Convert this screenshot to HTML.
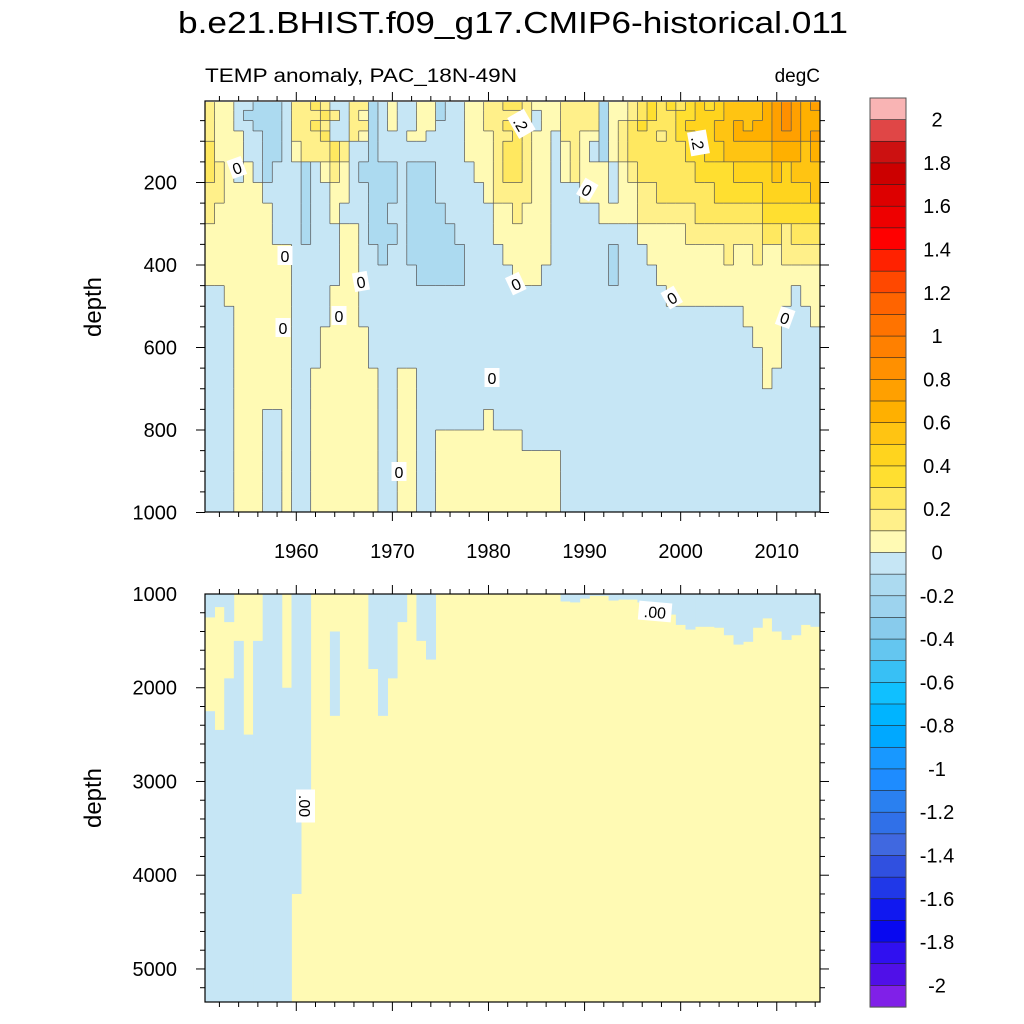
<!DOCTYPE html>
<html><head><meta charset="utf-8"><title>TEMP anomaly</title>
<style>
html,body{margin:0;padding:0;background:#fff;}
svg{display:block;font-family:"Liberation Sans",Arial,sans-serif;}
</style></head>
<body>
<svg id="chart" xmlns="http://www.w3.org/2000/svg" width="1024" height="1024" viewBox="0 0 1024 1024">
<rect width="1024" height="1024" fill="#fff"/>
<text x="513" y="33" font-size="31" text-anchor="middle" textLength="670" lengthAdjust="spacingAndGlyphs">b.e21.BHIST.f09_g17.CMIP6-historical.011</text>
<text x="205" y="82" font-size="19" textLength="312" lengthAdjust="spacingAndGlyphs">TEMP anomaly, PAC_18N-49N</text>
<text x="820" y="82" font-size="19" text-anchor="end">degC</text>
<text transform="translate(101,307) rotate(-90)" font-size="24" text-anchor="middle">depth</text>
<text transform="translate(101,798) rotate(-90)" font-size="24" text-anchor="middle">depth</text>
<defs>
<clipPath id="clipTop"><rect x="205" y="101" width="615" height="411"/></clipPath>
<clipPath id="clipBot"><rect x="205" y="594" width="615" height="408"/></clipPath>
</defs>
<g id="topField" clip-path="url(#clipTop)"></g>
<g id="topLines" clip-path="url(#clipTop)"></g>
<g id="botField" clip-path="url(#clipBot)"></g>
<g id="axes"></g>
<g id="labels"></g>
<g id="cbar"></g>
</svg>
<script>
// ---- data ----
const years = [];
for (let y = 1951; y <= 2014; y++) years.push(y);
const depthEdges = [5,25,50,75,100,150,200,250,300,350,400,450,500,550,600,650,700,750,800,850,900,950,1000];
// level codes: b=-0.15, a=-0.05, digit n = (n-0.5)*0.1
const tempRows = [
"211aabbba2232aa22ba1aa11baa11223321112222b1123434345456666789878",
"211abbbba22232a21ba1aa11baa1122222a112222b1123433445556666789877",
"211aabbba2232aa22ba1aa11aaa1122332a112222b1234333455566767789877",
"2111aabba2223aa21baaa11aaaa111223211a2211b1233323445566777788878",
"3111aabba122232aabaaaaaaaaa111233211a121ab1233333344556666677767",
"321a1abaaaba121abbbbabbbaaaa11233211a12111a123333334444555565666",
"221111aaaabaa11aabbbabbbaaaaa1222211aaa111a112233333344444555556",
"2111111aaabaa1aaabbaabbbbaaaaa112111aaaaa11112222223333333444444",
"1111111aaabaaa11abbbabbbbbaaaa111111aaaaaaaaa1111122222222332333",
"111111111aaaaa11aabaabbbbbbaaaa11111aaaaaabaaa111111112112112222",
"111111111aaaaa11aaaaaabbbbbaaaaa111aaaaaaabaaaa11111111111111111",
"aa1111111aaaa111aaaaaaaaaaaaaaaaaaaaaaaaaaaaaaaa1111111111111a11",
"aaa111111aaaa111aaaaaaaaaaaaaaaaaaaaaaaaaaaaaaaaaaaaaaaa1111aaa1",
"aaa111111aaa11111aaaaaaaaaaaaaaaaaaaaaaaaaaaaaaaaaaaaaaaa111aaaa",
"aaa111111aaa11111aaaaaaaaaaaaaaaaaaaaaaaaaaaaaaaaaaaaaaaaa11aaaa",
"aaa111111aa1111111aa11aaaaaaaaaaaaaaaaaaaaaaaaaaaaaaaaaaaa1aaaaa",
"aaa111111aa1111111aa11aaaaaaaaaaaaaaaaaaaaaaaaaaaaaaaaaaaaaaaaaa",
"aaa111aa1aa1111111aa11aaaaaaa1aaaaaaaaaaaaaaaaaaaaaaaaaaaaaaaaaa",
"aaa111aa1aa1111111aa11aa111111111aaaaaaaaaaaaaaaaaaaaaaaaaaaaaaa",
"aaa111aa1aa1111111aa11aa1111111111111aaaaaaaaaaaaaaaaaaaaaaaaaaa",
"aaa111aa1aa1111111aa11aa1111111111111aaaaaaaaaaaaaaaaaaaaaaaaaaa",
"aaa111aa1aa1111111aa11aa1111111111111aaaaaaaaaaaaaaaaaaaaaaaaaaa"
];
// lower panel: depth intervals (m) with negative anomaly, one list per year
const negIntervals = [
[[1000,1250],[2250,5400]],[[1000,1140],[2450,5400]],[[1000,1300],[1900,5400]],[[1500,5400]],
[[2500,5400]],[[1500,5400]],[[1000,5400]],[[1000,5400]],[[2000,5400]],[[1000,4200]],
[[1000,3300]],[],[],[[1400,2300]],[],[],[],[[1000,1800]],[[1000,2300]],[[1000,1900]],
[[1000,1300]],[],[[1000,1500]],[[1000,1700]],[],[],[],[],[],[],[],[],[],[],[],[],[],
[[1000,1080]],[[1000,1090]],[[1000,1050]],[[1000,1020]],[[1000,1020]],[[1000,1070]],[[1000,1060]],
[[1000,1060]],[[1000,1090]],[[1000,1140]],[[1000,1170]],[[1000,1220]],[[1000,1330]],[[1000,1380]],
[[1000,1350]],[[1000,1350]],[[1000,1360]],[[1000,1440]],[[1000,1540]],[[1000,1510]],[[1000,1360]],
[[1000,1260]],[[1000,1400]],[[1000,1490]],[[1000,1440]],[[1000,1330]],[[1000,1350]]
];
// warm: 0..0.1 first, last = above 2
const warmColors = ["#fffab4","#fff08a","#ffe860","#ffdf30","#ffd41e","#ffc412","#ffb000","#ffa000","#ff9000","#ff8000","#ff7300","#ff6400","#ff4800","#ff2200","#ff0000","#ee0000","#dd0000","#cc0000","#cc1111","#e04646","#f07878","#f9b4b4"];
const coolColors = ["#c6e6f5","#acdaf0","#9dd3ee","#88cbec","#64c6f0","#38c0f5","#10c0ff","#00b4ff","#00a8ff","#1898ff","#1e8cff","#2a80f0","#3070e8","#4068e0","#3050e0","#2038e8","#1018f0","#0808f0","#3010f0","#5010e8","#8020e8"];
const xTickYears = [1960,1970,1980,1990,2000,2010];
const topDepthTicks = [200,400,600,800,1000];
const botDepthTicks = [1000,2000,3000,4000,5000];
const cbarLabels = ["2","1.8","1.6","1.4","1.2","1","0.8","0.6","0.4","0.2","0","-0.2","-0.4","-0.6","-0.8","-1","-1.2","-1.4","-1.6","-1.8","-2"];

// ---- scales ----
const NS = "http://www.w3.org/2000/svg";
const X0 = 205, X1 = 820;
function xScale(yr){ return X0 + (yr - 1950.5) * (X1 - X0) / 64; }
function yTop(d){ return 100 + d * 0.4125; }
function yBot(d){ return 594 + (d - 1000) * 0.09374; }
function codeValue(c){ if (c === 'b') return -0.15; if (c === 'a') return -0.05; return (parseInt(c,10) - 0.5) * 0.1; }
function colorFor(v){
  if (v >= 0) return warmColors[Math.min(warmColors.length-1, Math.floor(v/0.1+1e-9))];
  return coolColors[Math.min(coolColors.length-1, Math.floor(-v/0.1+1e-9))];
}
function mk(tag, attrs, parent){
  const el = document.createElementNS(NS, tag);
  for (const k in attrs) el.setAttribute(k, attrs[k]);
  parent.appendChild(el);
  return el;
}

// ---- upper panel cells ----
const topField = document.getElementById('topField');
const topLines = document.getElementById('topLines');
for (let r = 0; r < tempRows.length; r++) {
  const row = tempRows[r];
  for (let c = 0; c < years.length; c++) {
    const v = codeValue(row[c]);
    const x0 = xScale(years[c]-0.5), x1 = xScale(years[c]+0.5);
    const y0 = yTop(depthEdges[r]), y1 = yTop(depthEdges[r+1]);
    const cell = mk('rect', {x:x0, y:y0, width:x1-x0+0.4, height:y1-y0+0.4, fill:colorFor(v)}, topField);
    
    
    if (c < years.length-1 && row[c] !== row[c+1]) {
      const ln = mk('line', {x1:x1, y1:y0, x2:x1, y2:y1, stroke:'#555', 'stroke-width':0.7}, topLines);
      
      
    }
    if (r < tempRows.length-1 && row[c] !== tempRows[r+1][c]) {
      const ln = mk('line', {x1:x0, y1:y1, x2:x1, y2:y1, stroke:'#555', 'stroke-width':0.7}, topLines);
      
      
    }
  }
}

// ---- lower panel ----
const botField = document.getElementById('botField');
const bg = mk('rect', {x:205, y:594, width:615, height:408, fill:warmColors[0]}, botField);


for (let c = 0; c < years.length; c++) {
  const x0 = xScale(years[c]-0.5), x1 = xScale(years[c]+0.5);
  for (const iv of negIntervals[c]) {
    const rc = mk('rect', {x:x0, y:yBot(iv[0]), width:x1-x0+0.4, height:yBot(iv[1])-yBot(iv[0]), fill:coolColors[0], stroke:'none'}, botField);
    
    
  }
}

// ---- axes ----
const axes = document.getElementById('axes');
function frame(y0, y1, name){
  const f = mk('rect', {x:205, y:y0, width:615, height:y1-y0, fill:'none', stroke:'#000', 'stroke-width':1.2}, axes);
  
  
}
frame(101, 512, 'upper-plot-frame');
frame(594, 1002, 'lower-plot-frame');
function tick(x1,y1,x2,y2){
  const t = mk('line', {x1:x1,y1:y1,x2:x2,y2:y2,stroke:'#000','stroke-width':1}, axes);
  
  
}
for (let yr = 1952; yr <= 2014; yr += 2) {
  const x = xScale(yr), major = yr % 10 === 0, L = major ? 9 : 5;
  tick(x,101,x,101-L); tick(x,512,x,512+L);
  tick(x,594,x,594-L); tick(x,1002,x,1002+L);
}
for (let d = 50; d <= 1000; d += 50) {
  const y = yTop(d), major = d % 200 === 0, L = major ? 9 : 5;
  tick(205,y,205-L,y); tick(820,y,820+L,y);
}
for (let d = 1200; d <= 5350; d += 200) {
  const y = yBot(d), major = d % 1000 === 0, L = major ? 9 : 5;
  tick(205,y,205-L,y); tick(820,y,820+L,y);
}
for (const yr of xTickYears) {
  const t = mk('text', {x:xScale(yr), y:558, 'font-size':20, 'text-anchor':'middle'}, axes);
  t.textContent = yr;
  
  
}
for (const d of topDepthTicks) {
  const t = mk('text', {x:177, y:yTop(d)+7, 'font-size':20, 'text-anchor':'end'}, axes);
  t.textContent = d;
  
  
}
for (const d of botDepthTicks) {
  const t = mk('text', {x:177, y:yBot(d)+7, 'font-size':20, 'text-anchor':'end'}, axes);
  t.textContent = d;
  
  
}

// ---- contour labels ----
const labelsG = document.getElementById('labels');
const contourLabels = [["0",237,168,-20],["0",285,256,0],["0",283,328,0],["0",339,316,0],["0",361,282,-10],["0",399,472,0],["0",492,378,0],["0",516,284,-25],[".2",521,124,60],["0",587,190,30],["0",672,298,-30],[".2",698,143,80],["0",785,318,20],[".00",305,806,90],[".00",655,612,5]];
for (const L of contourLabels) {
  const g = mk('g', {transform:`translate(${L[1]},${L[2]}) rotate(${L[3]})`}, labelsG);
  
  
  const w = L[0].length * 9 + 6;
  mk('rect', {x:-w/2, y:-10, width:w, height:19, fill:'#fff'}, g);
  const t = mk('text', {x:0, y:6, 'font-size':16, 'text-anchor':'middle'}, g);
  t.textContent = L[0];
}

// ---- colorbar ----
const cbar = document.getElementById('cbar');
const boxH = 909 / 42;
// boxes 0..20: warm from >2 down to 0..0.1 ; boxes 21..41: cool from 0..-0.1 down to < -2
const cbColors = [];
cbColors.push(warmColors[21]);
for (let i = 1; i <= 20; i++) cbColors.push(warmColors[20 - i + (i <= 2 ? 0 : 0)]);
// rebuild properly: box i (1..20) corresponds to level range (20-i)*0.1 .. (21-i)*0.1
for (let i = 1; i <= 20; i++) cbColors[i] = warmColors[20 - i];
cbColors[0] = warmColors[21];
for (let j = 0; j < 21; j++) cbColors.push(coolColors[j]);
// warm list has one extra red shade; use index 19..20 blend so that box 20 = 0..0.1
for (let i = 0; i < 42; i++) {
  const b = mk('rect', {x:870, y:98 + i*boxH, width:36, height:boxH+0.3, fill:cbColors[i], stroke:'#222', 'stroke-width':0.6}, cbar);
  
  
}
mk('rect', {x:870, y:98, width:36, height:909, fill:'none', stroke:'#555', 'stroke-width':1}, cbar);
for (let k = 0; k < cbarLabels.length; k++) {
  const t = mk('text', {x:937, y:98 + (1 + 2*k)*boxH + 7, 'font-size':20, 'text-anchor':'middle'}, cbar);
  t.textContent = cbarLabels[k];
  
  
}
</script>
</body></html>
